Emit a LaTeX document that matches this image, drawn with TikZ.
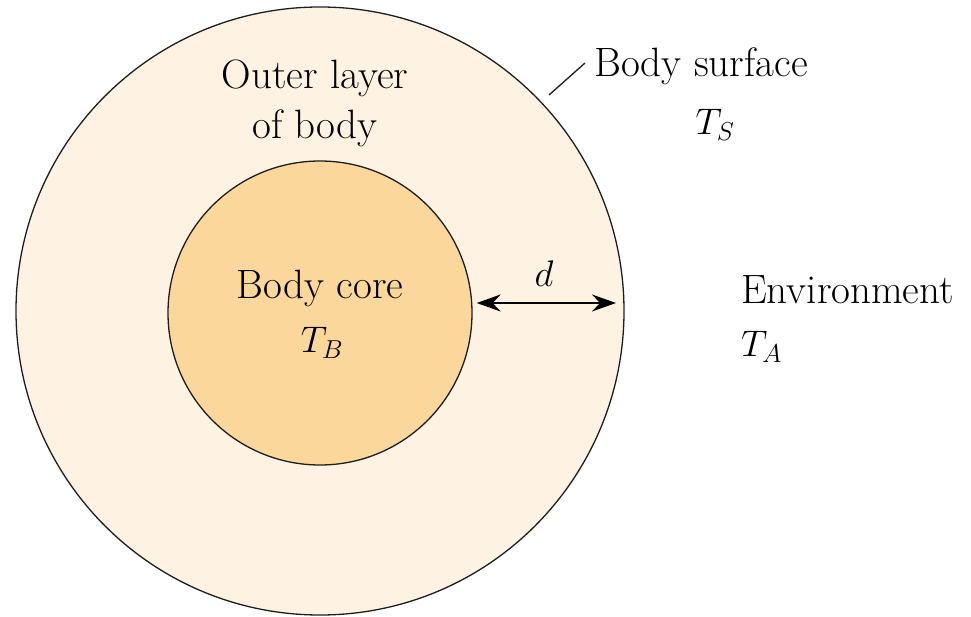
\documentclass[tikz,border=0pt]{standalone}
\usepackage{fix-cm}
\usetikzlibrary{arrows.meta}
\definecolor{outerfill}{RGB}{254,243,226}
\definecolor{innerfill}{RGB}{251,215,155}
\definecolor{linec}{RGB}{30,30,30}
\begin{document}
\begin{tikzpicture}[x=1pt,y=-1pt,
  lbl/.style={font=\fontsize{41}{50}\selectfont, inner sep=0pt},
  mlbl/.style={font=\fontsize{37}{44}\selectfont, inner sep=0pt},
  ring/.style={draw=linec, line width=1.3pt},
  dimarrow/.style={black, line width=2pt, {Stealth[length=24pt,width=17pt,inset=8pt]}-{Stealth[length=24pt,width=17pt,inset=8pt]}}]
\useasboundingbox (0,0) rectangle (971,617);
\node[ring, circle, fill=outerfill, minimum size=608pt, inner sep=0pt] (outer) at (320,311) {};
\node[ring, circle, fill=innerfill, minimum size=304pt, inner sep=0pt] (inner) at (320,313) {};
\node[lbl] (outerA) at (315,78) {Outer layer};
\node[lbl] (outerB) at (315,128) {of body};
\node[lbl] (core) at (320,288) {Body core};
\node[mlbl] (tb) at (322,343) {$T_B$};
\node[lbl, anchor=west] (surf) at (594,66) {Body surface};
\node[mlbl] (ts) at (715,125) {$T_S$};
\node[lbl, anchor=west] (env) at (741,290) {Environment};
\node[mlbl, anchor=west] (ta) at (741,347) {$T_A$};
\coordinate (ls) at (549,95);
\coordinate (le) at (585,63);
\draw[linec, line width=1.3pt] (ls) -- (le);
\coordinate (al) at (inner.east);
\coordinate (ar) at (616,303);
\draw[dimarrow] ([xshift=4pt]al |- ar) -- (ar);
\node[mlbl] (d) at (544,274) {$d$};
\end{tikzpicture}
\end{document}
